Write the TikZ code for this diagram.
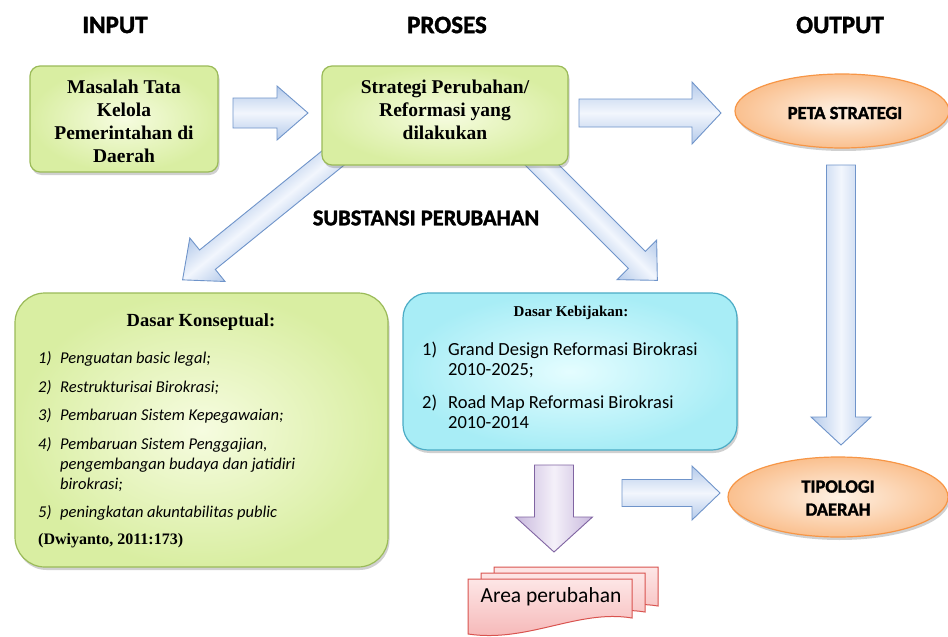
\documentclass[tikz,border=0pt]{standalone}
\usepackage{fontspec}
\setmainfont{Liberation Serif}
\setsansfont{Carlito}
\newfontfamily\heavysans{Carlito}[BoldFeatures={FakeBold=1.6}]
\usetikzlibrary{shadows,shapes.geometric}
\definecolor{grnA}{HTML}{F6FCE0}
\definecolor{grnB}{HTML}{D9EEA2}
\definecolor{grnD}{HTML}{9BBB59}
\definecolor{cyA}{HTML}{E4FDFF}
\definecolor{cyB}{HTML}{A8EDF6}
\definecolor{cyD}{HTML}{4BACC6}
\definecolor{orA}{HTML}{FEF1E4}
\definecolor{orB}{HTML}{FAC08F}
\definecolor{orD}{HTML}{F79646}
\definecolor{blA}{HTML}{F2F6FD}
\definecolor{blB}{HTML}{B4CAEA}
\definecolor{blD}{HTML}{6F94CA}
\definecolor{puA}{HTML}{F4F0F9}
\definecolor{puB}{HTML}{C8B8DD}
\definecolor{puD}{HTML}{8064A2}
\definecolor{pkA}{HTML}{FDE6E6}
\definecolor{pkB}{HTML}{F5B3B3}
\definecolor{pkD}{HTML}{D9534F}
\newcommand\blockarrow[7]{%
  \begin{scope}[transform canvas={shift={(#1)},rotate=#2}]
    \path[#7] (0,-#4) -- ({#3-#6},-#4) -- ({#3-#6},-#5) -- (#3,0) -- ({#3-#6},#5) -- ({#3-#6},#4) -- (0,#4) -- cycle;
  \end{scope}}
\newcommand\docpath[3]{%
  \begin{scope}[shift={(#1,#2)}]
    \path[#3] (0,0) -- (164,0) -- (164,-39) .. controls (110,-30) and (60,-64) .. (0,-55) -- cycle;
  \end{scope}}
\tikzset{
  hdr/.style={font=\heavysans\bfseries\fontsize{25}{28}\selectfont},
  softshadow/.style={drop shadow={shadow xshift=1.5pt,shadow yshift=-3pt,opacity=0.3,fill=black!60}},
  greenbox/.style={draw=grnD,line width=1.2pt,rounded corners=10pt,inner color=grnA,outer color=grnB,softshadow},
  cyanbox/.style={draw=cyD,line width=1.2pt,rounded corners=25pt,inner color=cyA,outer color=cyB,softshadow},
  orell/.style={ellipse,draw=orD,line width=1.2pt,inner color=orA,outer color=orB,softshadow},
  bluearrow/.style={draw=blD,line width=0.9pt,top color=blB,bottom color=blB,middle color=blA},
  purplearrow/.style={draw=puD,line width=0.9pt,top color=puB,bottom color=puB,middle color=puA},
  docstyle/.style={draw=pkD,line width=1pt,top color=pkA,bottom color=pkB},
  boxtxt/.style={font=\bfseries\fontsize{19.5}{23}\selectfont,align=center},
  ktitle/.style={font=\bfseries\fontsize{18.5}{21}\selectfont},
  kitem/.style={anchor=base west,inner sep=0pt,font=\sffamily\itshape\fontsize{16.5}{19}\selectfont},
  bitem/.style={anchor=base west,inner sep=0pt,font=\sffamily\fontsize{18.5}{21}\selectfont},
  elltxt/.style={font=\heavysans\bfseries\fontsize{18.5}{23}\selectfont,align=center}
}
\begin{document}
\begin{tikzpicture}[x=1pt,y=1pt]
\fill[white] (0,0) rectangle (948,-637);
\useasboundingbox (0,0) rectangle (948,-637);

% headers
\node[hdr] (hin) at (115,-25) {INPUT};
\node[hdr] (hpr) at (447,-25) {PROSES};
\node[hdr] (hout) at (840,-25) {OUTPUT};

% block arrows
\coordinate (a1t) at (233,-113);
\coordinate (a2t) at (579,-113);
\coordinate (a3t) at (841,-165);
\coordinate (a4t) at (622,-493);
\coordinate (a5t) at (554,-465);
\coordinate (dlt) at (338,-154);
\coordinate (drt) at (523,-146);
\blockarrow{dlt}{219}{200}{12.5}{28}{32}{bluearrow}
\blockarrow{drt}{-45}{190}{12}{28}{29}{bluearrow}
\blockarrow{a1t}{0}{75}{15}{27}{31}{bluearrow}
\blockarrow{a2t}{0}{142}{14}{31}{29}{bluearrow}
\blockarrow{a3t}{-90}{280}{14.5}{30}{28}{bluearrow}
\blockarrow{a4t}{0}{98}{13.5}{27}{28}{bluearrow}
\blockarrow{a5t}{-90}{87}{19.5}{38.5}{35}{purplearrow}

% top boxes
\node[greenbox,minimum width=188pt,minimum height=106pt] (b1) at (124,-119) {};
\node[boxtxt] (b1t) at (124,-121) {Masalah Tata\\Kelola\\Pemerintahan di\\Daerah};
\node[greenbox,minimum width=246pt,minimum height=99pt] (b2) at (445,-115.5) {};
\node[boxtxt] (b2t) at (445,-110) {Strategi Perubahan/\\Reformasi yang\\dilakukan};

% ellipses
\node[orell,minimum width=214pt,minimum height=74pt] (e1) at (842,-111) {};
\node[elltxt] (e1t) at (845,-113) {PETA STRATEGI};
\node[orell,minimum width=220pt,minimum height=80pt] (e2) at (838,-497) {};
\node[elltxt] (e2t) at (838,-498) {TIPOLOGI\\DAERAH};

% substansi
\node[font=\heavysans\bfseries\fontsize{22.5}{26}\selectfont] (sub) at (426,-218) {SUBSTANSI PERUBAHAN};

% Dasar Konseptual
\node[greenbox,rounded corners=30pt,minimum width=373pt,minimum height=274pt] (b3) at (201.5,-430) {};
\node[ktitle] (b3h) at (201,-322) {Dasar Konseptual:};
\node[kitem] (k1n) at (38,-363) {1)};
\node[kitem] (k1) at (60,-363) {Penguatan basic legal;};
\node[kitem] (k2n) at (38,-392) {2)};
\node[kitem] (k2) at (60,-392) {Restrukturisai Birokrasi;};
\node[kitem] (k3n) at (38,-420) {3)};
\node[kitem] (k3) at (60,-420) {Pembaruan Sistem Kepegawaian;};
\node[kitem] (k4n) at (38,-449) {4)};
\node[kitem] (k4) at (60,-449) {Pembaruan Sistem Penggajian,};
\node[kitem] (k4b) at (60,-469) {pengembangan budaya dan jatidiri};
\node[kitem] (k4c) at (60,-489) {birokrasi;};
\node[kitem] (k5n) at (38,-517) {5)};
\node[kitem] (k5) at (60,-517) {peningkatan akuntabilitas public};
\node[anchor=base west,inner sep=0pt,font=\bfseries\fontsize{16}{19}\selectfont] (cit) at (38,-544) {(Dwiyanto, 2011:173)};

% Dasar Kebijakan
\node[cyanbox,minimum width=334pt,minimum height=157pt] (b4) at (570,-371.5) {};
\node[font=\bfseries\fontsize{15}{18}\selectfont] (b4h) at (571,-313) {Dasar Kebijakan:};
\node[bitem] (p1n) at (422,-355) {1)};
\node[bitem] (p1) at (448,-355) {Grand Design Reformasi Birokrasi};
\node[bitem] (p1b) at (448,-375) {2010-2025;};
\node[bitem] (p2n) at (422,-408) {2)};
\node[bitem] (p2) at (448,-408) {Road Map Reformasi Birokrasi};
\node[bitem] (p2b) at (448,-428) {2010-2014};

% Area perubahan
\docpath{494}{-567}{docstyle}
\docpath{481}{-573}{docstyle}
\docpath{468}{-579}{docstyle}
\node[font=\sffamily\fontsize{21.5}{25}\selectfont] (area) at (551,-597) {Area perubahan};
\end{tikzpicture}
\end{document}
